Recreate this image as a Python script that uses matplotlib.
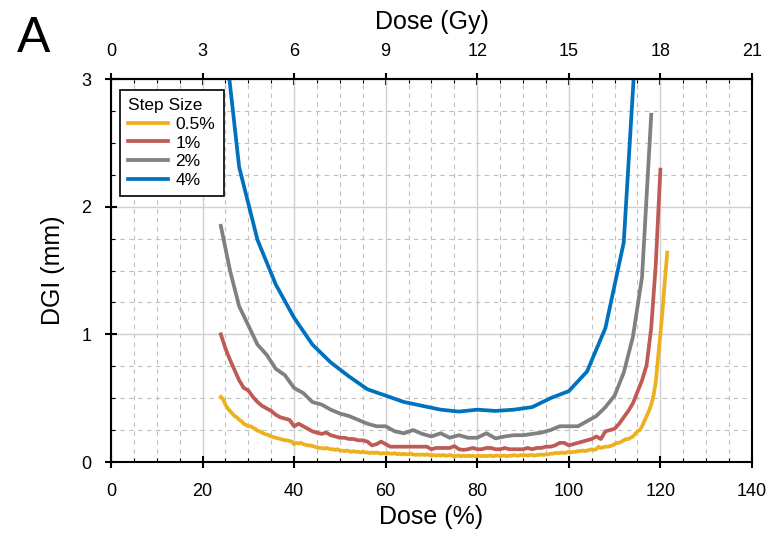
import numpy as np
import matplotlib.pyplot as plt
from matplotlib.ticker import MultipleLocator

plt.rcParams['font.family'] = ['Liberation Sans', 'DejaVu Sans']

# step size 4%
dose_4 = np.arange(24, 117, 4)
dgi_4 = [3.6, 2.31, 1.74, 1.39, 1.13, 0.92, 0.78, 0.67, 0.57, 0.52, 0.47, 0.44,
         0.41, 0.395, 0.41, 0.40, 0.41, 0.43, 0.50, 0.555, 0.71, 1.05, 1.72, 4.1]

# step size 2%
dose_2 = np.arange(24, 119, 2)
dgi_2 = [1.85, 1.50, 1.22, 1.07, 0.92, 0.84, 0.73, 0.68, 0.58, 0.54, 0.47, 0.45,
         0.41, 0.38, 0.36, 0.33, 0.30, 0.28, 0.28, 0.24, 0.225, 0.25, 0.22, 0.20,
         0.225, 0.19, 0.21, 0.19, 0.19, 0.225, 0.185, 0.20, 0.21, 0.21, 0.22, 0.23,
         0.25, 0.28, 0.28, 0.28, 0.32, 0.36, 0.43, 0.52, 0.70, 0.98, 1.45, 2.72]

# step size 1%
dose_1 = np.arange(24, 121, 1)
dgi_1 = [1.00, 0.89, 0.80, 0.72, 0.64, 0.58, 0.56, 0.51, 0.47, 0.44,
         0.42, 0.40, 0.37, 0.35, 0.34, 0.33, 0.28, 0.30, 0.28, 0.26,
         0.24, 0.23, 0.22, 0.23, 0.21, 0.20, 0.19, 0.19, 0.18, 0.18,
         0.17, 0.17, 0.16, 0.13, 0.14, 0.16, 0.14, 0.12, 0.12, 0.12,
         0.12, 0.12, 0.12, 0.12, 0.12, 0.12, 0.10, 0.11, 0.11, 0.11,
         0.11, 0.125, 0.10, 0.095, 0.10, 0.11, 0.10, 0.10, 0.11, 0.11,
         0.10, 0.10, 0.11, 0.10, 0.10, 0.10, 0.10, 0.11, 0.10, 0.11,
         0.11, 0.12, 0.12, 0.13, 0.15, 0.15, 0.13, 0.14, 0.15, 0.16,
         0.17, 0.18, 0.20, 0.18, 0.24, 0.25, 0.26, 0.30, 0.35, 0.40,
         0.46, 0.55, 0.64, 0.76, 1.05, 1.55, 2.29]

# step size 0.5%
dose_05 = np.arange(24, 121.6, 0.5)
dgi_05 = [0.51, 0.49, 0.45, 0.42, 0.40, 0.38, 0.36, 0.35, 0.33, 0.32,
          0.30, 0.29, 0.28, 0.28, 0.27, 0.26, 0.245, 0.24, 0.23, 0.22,
          0.215, 0.21, 0.20, 0.195, 0.19, 0.185, 0.18, 0.175, 0.17, 0.17,
          0.165, 0.16, 0.14, 0.15, 0.145, 0.15, 0.14, 0.135, 0.13, 0.13,
          0.125, 0.12, 0.115, 0.11, 0.11, 0.105, 0.11, 0.105, 0.10, 0.10,
          0.095, 0.10, 0.09, 0.09, 0.085, 0.09, 0.085, 0.08, 0.085, 0.08,
          0.08, 0.075, 0.08, 0.075, 0.075, 0.07, 0.075, 0.07, 0.075, 0.07,
          0.065, 0.07, 0.065, 0.07, 0.065, 0.065, 0.07, 0.06, 0.065, 0.06,
          0.065, 0.06, 0.06, 0.065, 0.06, 0.055, 0.06, 0.055, 0.06, 0.055,
          0.06, 0.055, 0.05, 0.055, 0.05, 0.055, 0.05, 0.055, 0.05, 0.05,
          0.055, 0.05, 0.045, 0.05, 0.05, 0.045, 0.05, 0.045, 0.05, 0.045,
          0.05, 0.045, 0.045, 0.05, 0.045, 0.05, 0.045, 0.05, 0.05, 0.045,
          0.05, 0.05, 0.045, 0.05, 0.05, 0.045, 0.05, 0.05, 0.055, 0.05,
          0.05, 0.055, 0.05, 0.055, 0.05, 0.055, 0.055, 0.05, 0.055, 0.055,
          0.06, 0.055, 0.06, 0.06, 0.065, 0.065, 0.07, 0.07, 0.07, 0.075,
          0.07, 0.075, 0.08, 0.075, 0.08, 0.08, 0.085, 0.085, 0.09, 0.085,
          0.09, 0.095, 0.10, 0.095, 0.10, 0.12, 0.11, 0.115, 0.12, 0.12,
          0.125, 0.13, 0.14, 0.15, 0.15, 0.16, 0.17, 0.18, 0.18, 0.19,
          0.20, 0.22, 0.24, 0.25, 0.28, 0.32, 0.36, 0.40, 0.45, 0.52,
          0.63, 0.82, 1.00, 1.20, 1.43, 1.64]

series = [
    (dose_05, dgi_05, '0.5%', '#EDB120'),
    (dose_1, dgi_1, '1%', '#BF5B55'),
    (dose_2, dgi_2, '2%', '#808080'),
    (dose_4, dgi_4, '4%', '#0072BD'),
]

fig = plt.figure(figsize=(7.76, 5.42), dpi=100)
ax = fig.add_axes([0.143, 0.1476, 0.826, 0.7066])

for x, y, lab, c in series:
    ax.plot(x, y, color=c, lw=2.7, label=lab, solid_joinstyle='round')

ax.set_xlim(0, 140)
ax.set_ylim(0, 3)
ax.xaxis.set_major_locator(MultipleLocator(20))
ax.xaxis.set_minor_locator(MultipleLocator(5))
ax.yaxis.set_major_locator(MultipleLocator(1))
ax.yaxis.set_minor_locator(MultipleLocator(0.25))
ax.grid(which='major', color='#d0d0d0', lw=1.0)
ax.grid(which='minor', color='#c0c0c0', lw=0.8, ls=(0, (4, 4)))
ax.set_axisbelow(True)
ax.tick_params(which='major', direction='inout', length=8, width=1.5, labelsize=13)
ax.tick_params(axis='x', which='major', pad=11)
ax.tick_params(axis='y', which='major', pad=10)
ax.tick_params(which='minor', direction='in', length=3, width=0.8)
for s in ax.spines.values():
    s.set_linewidth(1.5)

ax.set_xlabel('Dose (%)', fontsize=18, labelpad=4)
ax.set_ylabel('DGI (mm)', fontsize=18, labelpad=12)

# top axis in Gy (100% = 15 Gy)
top = ax.secondary_xaxis('top', functions=(lambda p: p * 0.15, lambda g: g / 0.15))
top.xaxis.set_major_locator(MultipleLocator(3))
top.xaxis.set_minor_locator(MultipleLocator(0.75))
top.tick_params(which='major', direction='inout', length=8, width=1.5, labelsize=13, pad=10)
top.tick_params(which='minor', direction='in', length=3, width=0.8)
top.spines['top'].set_linewidth(1.5)
top.set_xlabel('Dose (Gy)', fontsize=18, labelpad=10)

leg = ax.legend(title='Step Size', loc='upper left', bbox_to_anchor=(0.0, 0.995),
                fontsize=12.5, title_fontsize=12.5, fancybox=False, framealpha=1,
                edgecolor='black', handlelength=2.3, handletextpad=0.4,
                labelspacing=0.2, borderpad=0.5)
leg.get_frame().set_linewidth(1.2)
leg._legend_box.align = 'left'

fig.text(0.043, 0.928, 'A', fontsize=36, ha='center', va='center')

fig.savefig('out.png', dpi=100)
